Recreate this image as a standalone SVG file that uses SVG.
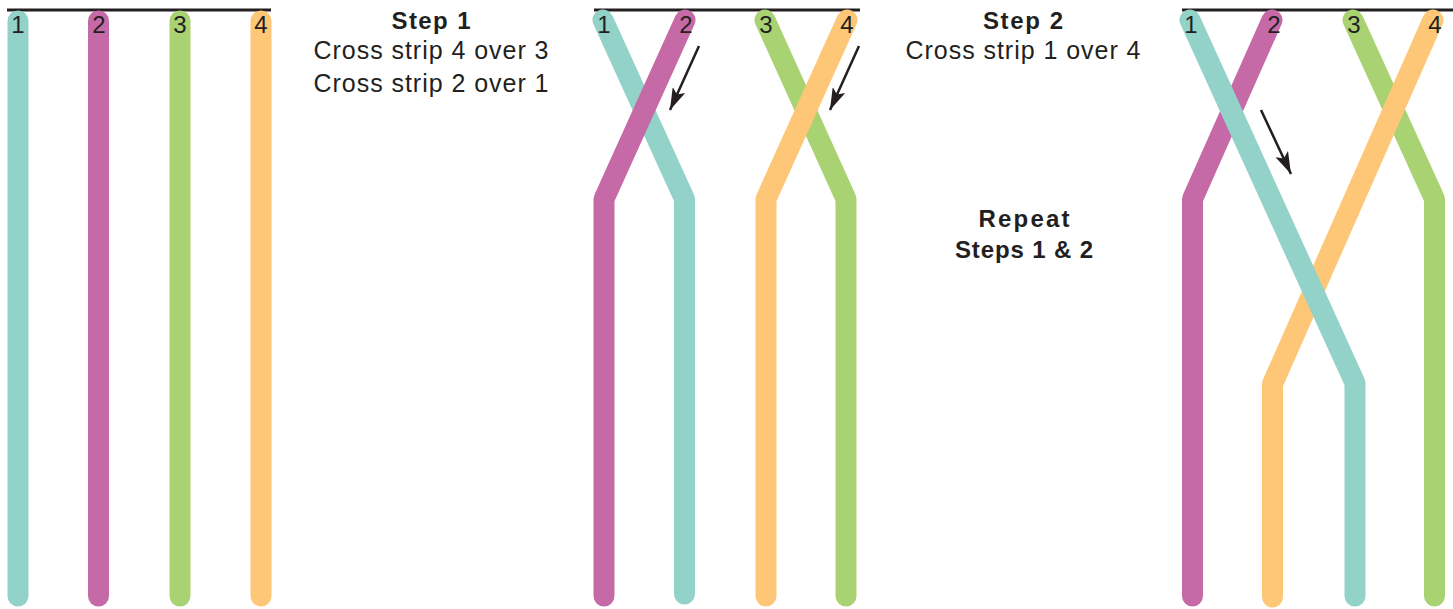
<svg xmlns="http://www.w3.org/2000/svg" width="1453" height="609" viewBox="0 0 1453 609">
<style>
.s{fill:none;stroke-width:21;stroke-linecap:round;stroke-linejoin:bevel}
.t1{stroke:#92d2c8}.t2{stroke:#c56aa7}.t3{stroke:#a9d273}.t4{stroke:#fdc777}
.bar{stroke:#231f20;stroke-width:3}
.num{font-family:"Liberation Sans",Arial,sans-serif;font-size:24px;fill:#231f20;text-anchor:middle}
.h{font-family:"Liberation Sans",Arial,sans-serif;font-size:24px;font-weight:bold;fill:#231f20;text-anchor:middle}
.b{font-family:"Liberation Sans",Arial,sans-serif;font-size:25px;fill:#231f20;text-anchor:middle}
.arr{stroke:#231f20;stroke-width:2.5;fill:none;marker-end:url(#ah)}
</style>
<defs>
<marker id="ah" markerUnits="userSpaceOnUse" viewBox="0 0 22 14" refX="22" refY="7" markerWidth="22" markerHeight="14" orient="auto">
<path d="M0,0 L22,7 L0,14 L5,7 z" fill="#231f20"/>
</marker>
</defs>
<rect width="1453" height="609" fill="#ffffff"/>

<g id="panel1">
<line class="bar" x1="7" y1="10" x2="271" y2="10"/>
<g id="p1-strip1"><line class="s t1" x1="18" y1="21" x2="18" y2="596"/><text class="num" x="18" y="33">1</text></g>
<g id="p1-strip2"><line class="s t2" x1="98.5" y1="21" x2="98.5" y2="596"/><text class="num" x="99" y="33">2</text></g>
<g id="p1-strip3"><line class="s t3" x1="180" y1="21" x2="180" y2="596"/><text class="num" x="180" y="33">3</text></g>
<g id="p1-strip4"><line class="s t4" x1="261" y1="21" x2="261" y2="596"/><text class="num" x="261" y="33">4</text></g>
</g>

<g id="step1-text">
<text class="h" x="431" y="29" textLength="79">Step 1</text>
<text class="b" x="431" y="59" textLength="235">Cross strip 4 over 3</text>
<text class="b" x="431" y="92" textLength="235">Cross strip 2 over 1</text>
</g>

<g id="panel2">
<line class="bar" x1="594" y1="10" x2="860" y2="10"/>
<g id="p2-strip1"><polyline class="s t1" points="603,20 684.5,199 684.5,594"/></g>
<g id="p2-strip2"><polyline class="s t2" points="685,20 604,199 604,596"/></g>
<g id="p2-strip3"><polyline class="s t3" points="765,20 846,199 846,596"/></g>
<g id="p2-strip4"><polyline class="s t4" points="847,20 766,199 766,596"/></g>
<text class="num" x="604" y="33">1</text>
<text class="num" x="686" y="33">2</text>
<text class="num" x="766" y="33">3</text>
<text class="num" x="847" y="33">4</text>
</g>

<g id="step2-text">
<text class="h" x="1023" y="29" textLength="80">Step 2</text>
<text class="b" x="1023" y="59" textLength="235">Cross strip 1 over 4</text>
<text class="h" x="1024" y="227" textLength="91">Repeat</text>
<text class="h" x="1024" y="258" textLength="138">Steps 1 &amp; 2</text>
</g>

<g id="panel3">
<line class="bar" x1="1182" y1="10" x2="1453" y2="10"/>
<g id="p3-strip2"><polyline class="s t2" points="1272,20 1192.5,199 1192.5,596"/></g>
<g id="p3-strip3"><polyline class="s t3" points="1353,20 1434.5,199 1434.5,596"/></g>
<g id="p3-strip4"><polyline class="s t4" points="1433,20 1272.5,384 1272.5,597"/></g>
<g id="p3-strip1"><polyline class="s t1" points="1190,20 1355,383 1355,596"/></g>
<text class="num" x="1191" y="33">1</text>
<text class="num" x="1274" y="33">2</text>
<text class="num" x="1354" y="33">3</text>
<text class="num" x="1435" y="33">4</text>
</g>

<g id="connectors">
<line class="arr" x1="699" y1="46" x2="670" y2="110"/>
<line class="arr" x1="859" y1="46" x2="830" y2="110"/>
<line class="arr" x1="1261" y1="110" x2="1291" y2="174"/>
</g>
</svg>
